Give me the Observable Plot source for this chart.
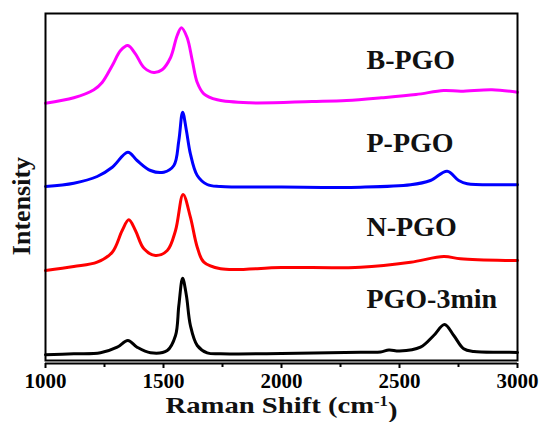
<!DOCTYPE html>
<html><head><meta charset="utf-8">
<script src="https://cdn.jsdelivr.net/npm/d3@7"></script>
<script src="https://cdn.jsdelivr.net/npm/@observablehq/plot@0.6"></script>
<style>body{margin:0;background:#fff}</style>
</head><body><div id="chart"></div>
<script>
// Samples (legend order bottom to top)
const samples = ["PGO-3min", "N-PGO", "P-PGO", "B-PGO"];
const sampleColors = ["#000000", "#ff0000", "#0000ff", "#ff00ff"];

// PGO-3min spectrum (Raman shift cm-1, offset intensity a.u.)
const pgoShift = [1000,1120,1233,1304,1349,1388,1445,1516,1551,1565,1581,1597,1614,1643,1685,1742,2000,2335,2420,2455,2500,2589,2645,2691,2730,2772,2815,2949,3000];
const pgoInt   = [5.7,6.7,7.7,13.3,20,13.3,7.7,10,25,55,82.3,65,35,15,7.7,6.7,7,8.3,8.5,10.5,9.5,13.3,25,36,25,11.7,9,8.3,8];

// N-PGO spectrum
const nShift = [1000,1120,1219,1283,1325,1353,1381,1417,1466,1516,1551,1583,1614,1643,1671,1742,2000,2335,2547,2688,2758,2949,3000];
const nInt   = [90,94,98.3,108.3,130,140.7,130,111.7,105,110,130,166,143.3,113.3,98.3,91.7,93,93.3,98.3,104,101.7,100,100];

// P-PGO spectrum
const pShift = [1000,1120,1219,1283,1349,1388,1445,1501,1544,1565,1581,1597,1614,1643,1685,1742,2000,2335,2547,2631,2702,2751,2787,2949,3000];
const pInt   = [174,177.3,184,193.3,208.3,200,190,188.3,195,220,248.3,230,206.7,185,176,174,173.5,173.3,175.7,180,189.3,180,176.7,175.7,175.7];

// B-PGO spectrum
const bShift = [1000,1120,1205,1240,1283,1318,1349,1381,1417,1459,1494,1530,1558,1576,1600,1622,1643,1671,1728,1865,2129,2276,2423,2570,2687,2760,2892,3000];
const bInt   = [257.3,262.7,270.7,278,295,310,315,306.7,293,288,290.7,303,325,332.7,323,300,278,266.7,260.7,257.7,259,260,262.7,266,270,269.3,270.7,268.3];

// Axis ticks
const majorTicks = [1000, 1500, 2000, 2500, 3000];
const minorTicks = [1250, 1750, 2250, 2750];

// Curve labels: anchor shift and intensity
const labelShift = [2360, 2360, 2360, 2360];
const labelInt = [61, 133, 217, 300];

const xTitle = "Raman Shift (cm-1)";
const yTitle = "Intensity";

const spectra = [[pgoShift, pgoInt], [nShift, nInt], [pShift, pInt], [bShift, bInt]];
const rows = [];
spectra.forEach(([xs, ys], k) => xs.forEach((x, i) => rows.push({sample: samples[k], shift: x, intensity: ys[i]})));
const labels = samples.map((s, i) => ({sample: s, shift: labelShift[i], intensity: labelInt[i]}));

const font = "'Liberation Serif','Times New Roman',serif";

const svg = Plot.plot({
  width: 542, height: 422,
  marginLeft: 45, marginRight: 25, marginTop: 13, marginBottom: 62,
  style: {fontFamily: font, background: "white", color: "black"},
  x: {domain: [1000, 3000], axis: null},
  y: {domain: [0, 347], axis: null},
  color: {domain: samples, range: sampleColors},
  marks: [
    Plot.line(rows, {x: "shift", y: "intensity", z: "sample", stroke: "sample", strokeWidth: 3, curve: "catmull-rom"}),
    Plot.frame({stroke: "black", strokeWidth: 2}),
    Plot.ruleY([0], {dy: 3, stroke: "black", strokeWidth: 2}),
    Plot.axisX({ticks: majorTicks, tickSize: 5, dy: 3, tickPadding: 5, strokeWidth: 2, fontSize: 20, fontWeight: "bold", tickFormat: d => String(d), label: null}),
    Plot.axisX({ticks: minorTicks, tickSize: 4, dy: 3, strokeWidth: 2, tickFormat: () => "", label: null}),
    Plot.text(labels, {x: "shift", y: "intensity", text: "sample", textAnchor: "start", lineAnchor: "middle", fontSize: 28, fontWeight: "bold", fill: "#111"}),
    Plot.text([yTitle], {frameAnchor: "left", rotate: -90, dx: -24, dy: 19, textAnchor: "middle", lineAnchor: "middle", fontSize: 26, fontWeight: "bold", fill: "#111"}),
    Plot.text([xTitle], {frameAnchor: "bottom", dy: 44.5, textAnchor: "middle", lineAnchor: "middle", fontSize: 24, fontWeight: "bold", fill: "#111"})
  ]
});

// superscript for the x title, slightly widened like the reference
d3.select(svg).selectAll("text").filter(function() { return this.textContent === xTitle; }).each(function() {
  const t = d3.select(this);
  t.text(null);
  t.append("tspan").text("Raman Shift (cm");
  t.append("tspan").attr("dy", "-0.5em").attr("font-size", 14).text("-1");
  t.append("tspan").attr("dy", "0.5em").text(")");
  t.attr("textLength", 232).attr("lengthAdjust", "spacingAndGlyphs");
});
// widen tick labels slightly like the reference
d3.select(svg).selectAll("g[aria-label='x-axis tick label'] text").each(function() {
  if (this.textContent) d3.select(this).attr("textLength", 42).attr("lengthAdjust", "spacingAndGlyphs");
});

document.getElementById("chart").appendChild(svg);
</script>
</body></html>
